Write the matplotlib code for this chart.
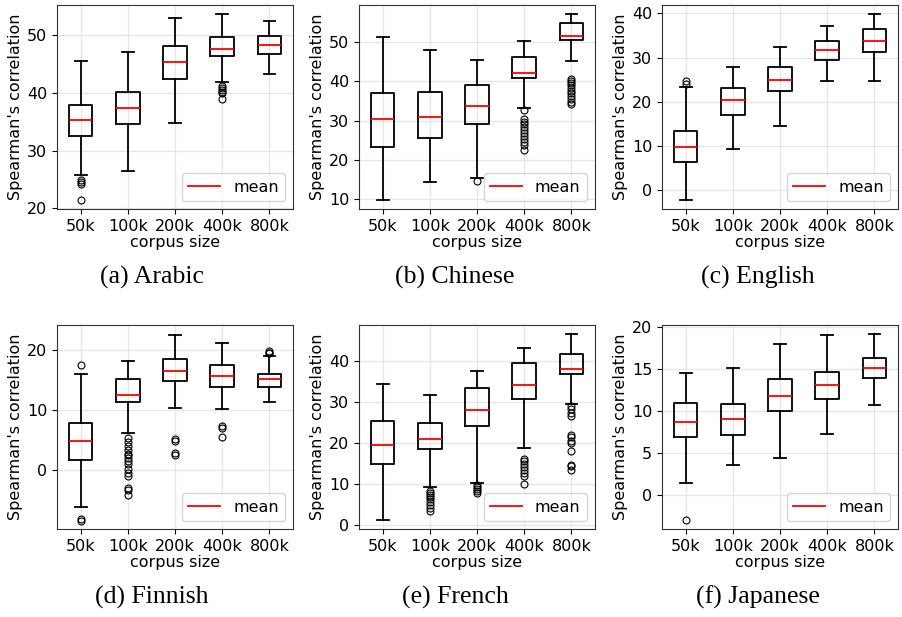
import matplotlib.pyplot as plt
from matplotlib.lines import Line2D

sizes = ["50k", "100k", "200k", "400k", "800k"]
captions = ["(a) Arabic", "(b) Chinese", "(c) English",
            "(d) Finnish", "(e) French", "(f) Japanese"]

# per language: whisker low, q1, median, q3, whisker high, outliers per box
arabic_lo = [25.8, 26.5, 34.8, 41.8, 43.2]
arabic_q1 = [32.6, 34.6, 42.4, 46.4, 46.8]
arabic_med = [35.3, 37.4, 45.3, 47.6, 48.2]
arabic_q3 = [37.9, 40.1, 48.1, 49.6, 49.8]
arabic_hi = [45.5, 47.1, 53.0, 53.6, 52.4]
arabic_out = [[24.3, 24.6, 24.9, 21.5], [], [],
              [41.2, 40.8, 40.5, 40.2, 39.9, 39.0], []]

chinese_lo = [9.8, 14.3, 15.3, 33.1, 45.2]
chinese_q1 = [23.2, 25.6, 29.2, 40.8, 50.5]
chinese_med = [30.3, 31.0, 33.6, 42.2, 51.6]
chinese_q3 = [37.1, 37.2, 39.1, 46.3, 54.8]
chinese_hi = [51.4, 47.9, 45.5, 50.2, 57.1]
chinese_out = [[], [], [14.6],
               [32.8, 30.3, 29.7, 29.0, 28.3, 27.5, 26.7, 26.0, 25.3, 24.6, 23.8, 22.6],
               [40.7, 40.2, 39.6, 39.0, 38.3, 37.6, 36.9, 36.2, 35.5, 34.8, 34.3]]

english_lo = [-2.2, 9.2, 14.6, 24.8, 24.7]
english_q1 = [6.4, 17.1, 22.4, 29.4, 31.2]
english_med = [9.8, 20.3, 24.9, 31.7, 33.7]
english_q3 = [13.4, 23.0, 27.8, 33.8, 36.5]
english_hi = [23.4, 27.8, 32.3, 37.2, 39.8]
english_out = [[24.0, 24.6], [], [], [], []]

finnish_lo = [-6.3, 6.2, 10.4, 10.2, 11.4]
finnish_q1 = [1.6, 11.4, 14.9, 13.9, 13.8]
finnish_med = [4.8, 12.5, 16.5, 15.7, 15.1]
finnish_q3 = [7.9, 15.2, 18.5, 17.5, 16.0]
finnish_hi = [16.0, 18.1, 22.5, 21.2, 19.0]
finnish_out = [[17.5, -8.2, -8.5],
               [5.3, 4.6, 4.0, 3.3, 2.7, 2.4, 2.0, 1.5, 0.9, 0.2, -0.6, -1.0, -3.0, -3.3, -4.2],
               [5.1, 4.8, 2.8, 2.4],
               [7.4, 7.0, 5.4],
               [19.5, 19.8, 19.6]]

french_lo = [1.4, 9.4, 10.4, 18.9, 29.5]
french_q1 = [15.0, 18.7, 24.2, 30.9, 36.8]
french_med = [19.6, 21.0, 28.1, 34.2, 38.2]
french_q3 = [25.5, 25.0, 33.5, 39.7, 41.9]
french_hi = [34.6, 31.8, 37.7, 43.2, 46.6]
french_out = [[],
              [8.5, 8.0, 7.5, 7.0, 6.5, 5.8, 5.0, 4.3, 3.6],
              [9.9, 9.4, 8.8, 8.3, 7.8],
              [16.3, 15.7, 14.9, 14.2, 13.5, 12.7, 12.0, 10.0],
              [29.0, 28.4, 27.5, 26.8, 22.0, 21.5, 20.5, 20.0, 18.2, 14.8, 14.4, 13.6]]

japanese_lo = [1.4, 3.5, 4.4, 7.2, 10.7]
japanese_q1 = [6.8, 7.1, 9.9, 11.4, 13.9]
japanese_med = [8.7, 9.0, 11.8, 13.0, 15.1]
japanese_q3 = [10.9, 10.8, 13.8, 14.6, 16.3]
japanese_hi = [14.5, 15.1, 18.0, 19.0, 19.1]
japanese_out = [[-3.0], [], [], [], []]

languages = [
    (arabic_lo, arabic_q1, arabic_med, arabic_q3, arabic_hi, arabic_out),
    (chinese_lo, chinese_q1, chinese_med, chinese_q3, chinese_hi, chinese_out),
    (english_lo, english_q1, english_med, english_q3, english_hi, english_out),
    (finnish_lo, finnish_q1, finnish_med, finnish_q3, finnish_hi, finnish_out),
    (french_lo, french_q1, french_med, french_q3, french_hi, french_out),
    (japanese_lo, japanese_q1, japanese_med, japanese_q3, japanese_hi, japanese_out),
]
# y range
ylims = [None, None, None, (-9.9, 24.2), None, None]

plt.rcParams['font.family'] = 'DejaVu Sans'
plt.rcParams['font.size'] = 11.5

fig = plt.figure(figsize=(9.02, 6.17), dpi=100)

W, H = 902.0, 617.0
col_left = [57, 359, 662]
row_top = [5, 325]
ax_w, ax_h = 236, 204
cap_x = [152, 455, 758]
cap_base = [284, 604]

line_kw = dict(color='black', linewidth=1.3)
for idx, (lo, q1, med, q3, hi, out) in enumerate(languages):
    r, c = divmod(idx, 3)
    ax = fig.add_axes([col_left[c] / W, 1 - (row_top[r] + ax_h) / H, ax_w / W, ax_h / H])
    stats = []
    for i in range(len(sizes)):
        stats.append(dict(whislo=lo[i], q1=q1[i], med=med[i], q3=q3[i],
                          whishi=hi[i], fliers=out[i]))
    ax.bxp(stats, positions=range(1, len(sizes) + 1), widths=0.5,
           boxprops=line_kw, whiskerprops=line_kw, capprops=line_kw,
           medianprops=dict(color='red', linewidth=1.3),
           flierprops=dict(marker='o', markerfacecolor='none',
                           markeredgecolor='black', markersize=5,
                           markeredgewidth=0.8))
    if ylims[idx] is not None:
        ax.set_ylim(*ylims[idx])
    ax.set_xticks(range(1, len(sizes) + 1))
    ax.set_xticklabels(sizes)
    ax.grid(True, color='#e6e6e6', linewidth=0.9)
    ax.set_axisbelow(True)
    for s in ax.spines.values():
        s.set_color('#333333')
    ax.set_xlabel('corpus size', labelpad=1)
    ax.set_ylabel("Spearman's correlation", labelpad=3)
    ax.legend([Line2D([0], [0], color='red', linewidth=1.3)], ['mean'],
              loc='lower right')
    fig.text(cap_x[c] / W, 1 - cap_base[r] / H, captions[idx],
             ha='center', va='baseline', fontsize=18.5,
             family='Liberation Serif')

fig.savefig('out.png', dpi=100)
